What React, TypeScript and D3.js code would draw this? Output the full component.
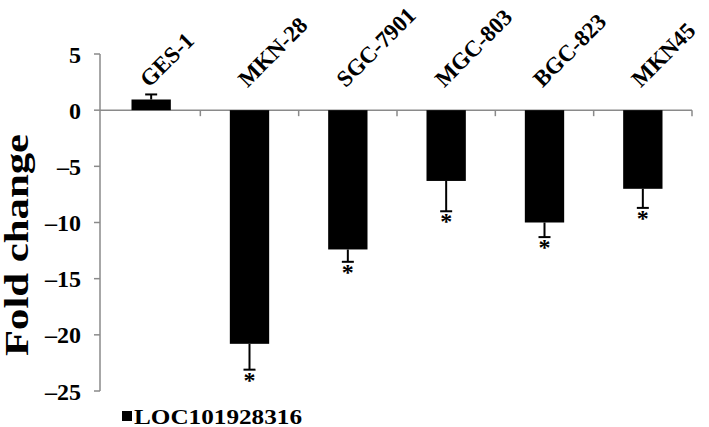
import React from "react";
import * as d3 from "d3";

const cellLines = ["GES-1", "MKN-28", "SGC-7901", "MGC-803", "BGC-823", "MKN45"];
const foldChange = [0.95, -20.8, -12.4, -6.3, -10.0, -7.0];
const errors = [0.45, 2.3, 1.1, 2.7, 1.3, 1.7];
const significant = [false, true, true, true, true, true];
const yTicks = [5, 0, -5, -10, -15, -20, -25];
const seriesName = "LOC101928316";

const width = 709;
const height = 427;
const font = "Liberation Serif";
const axisColor = "#8a8a8a";

export default function App() {
  const x = d3.scaleBand().domain(cellLines).range([102, 692]).paddingInner(0.6).paddingOuter(0.3);
  const y = d3.scaleLinear().domain([-25, 5]).range([391, 54]);
  const step = x.step();
  const bounds = cellLines.map((c) => (x(c) as number) + x.bandwidth() / 2 + step / 2);
  const txt = { fontFamily: font, fontWeight: 700 as const };

  return (
    <svg width={width} height={height} style={{ position: "absolute", left: 0, top: 0 }}>
      <rect width={width} height={height} fill="#fff" />

      {/* y axis */}
      <line x1={100} x2={100} y1={y(5)} y2={y(-25)} stroke={axisColor} strokeWidth={1.5} />
      {yTicks.map((t) => (
        <g key={t}>
          <line x1={94} x2={100} y1={y(t)} y2={y(t)} stroke={axisColor} strokeWidth={1.5} />
          <text x={81} y={y(t)} dy="0.36em" textAnchor="end" style={{ ...txt, fontSize: 24 }}>
            {t < 0 ? "\u2013" + Math.abs(t) : t}
          </text>
        </g>
      ))}

      {/* x axis at zero */}
      <line x1={100} x2={692} y1={y(0)} y2={y(0)} stroke={axisColor} strokeWidth={1.5} />
      {bounds.map((bx, i) => (
        <line key={i} x1={bx} x2={bx} y1={y(0)} y2={y(0) + 6} stroke={axisColor} strokeWidth={1.5} />
      ))}

      {/* bars, error bars, stars, labels */}
      {cellLines.map((c, i) => {
        const v = foldChange[i];
        const cx = (x(c) as number) + x.bandwidth() / 2;
        const end = v + Math.sign(v) * errors[i];
        return (
          <g key={c}>
            <rect
              x={x(c)}
              width={x.bandwidth()}
              y={Math.min(y(v), y(0))}
              height={Math.abs(y(v) - y(0))}
              fill="#000"
            />
            <line x1={cx} x2={cx} y1={y(v)} y2={y(end)} stroke="#000" strokeWidth={2} />
            <line x1={cx - 6} x2={cx + 6} y1={y(end)} y2={y(end)} stroke="#000" strokeWidth={2} />
            {significant[i] && (
              <text x={cx} y={y(end) + 18} textAnchor="middle" style={{ ...txt, fontSize: 24 }}>
                *
              </text>
            )}
            <g transform={`translate(${cx - 2},${y(0) - 22})`}>
              <text transform="rotate(-45)" style={{ ...txt, fontSize: 23 }}>
                {c}
              </text>
            </g>
          </g>
        );
      })}

      {/* y title */}
      <g transform="translate(28,245)">
        <text
          transform="rotate(-90)"
          textAnchor="middle"
          style={{ ...txt, fontSize: 33 }}
          textLength={222}
          lengthAdjust="spacingAndGlyphs"
        >
          Fold change
        </text>
      </g>

      {/* legend */}
      <rect x={122} y={411} width={10} height={10} fill="#000" />
      <text
        x={134}
        y={424}
        style={{ ...txt, fontSize: 20 }}
        textLength={168}
        lengthAdjust="spacingAndGlyphs"
      >
        {seriesName}
      </text>
    </svg>
  );
}
